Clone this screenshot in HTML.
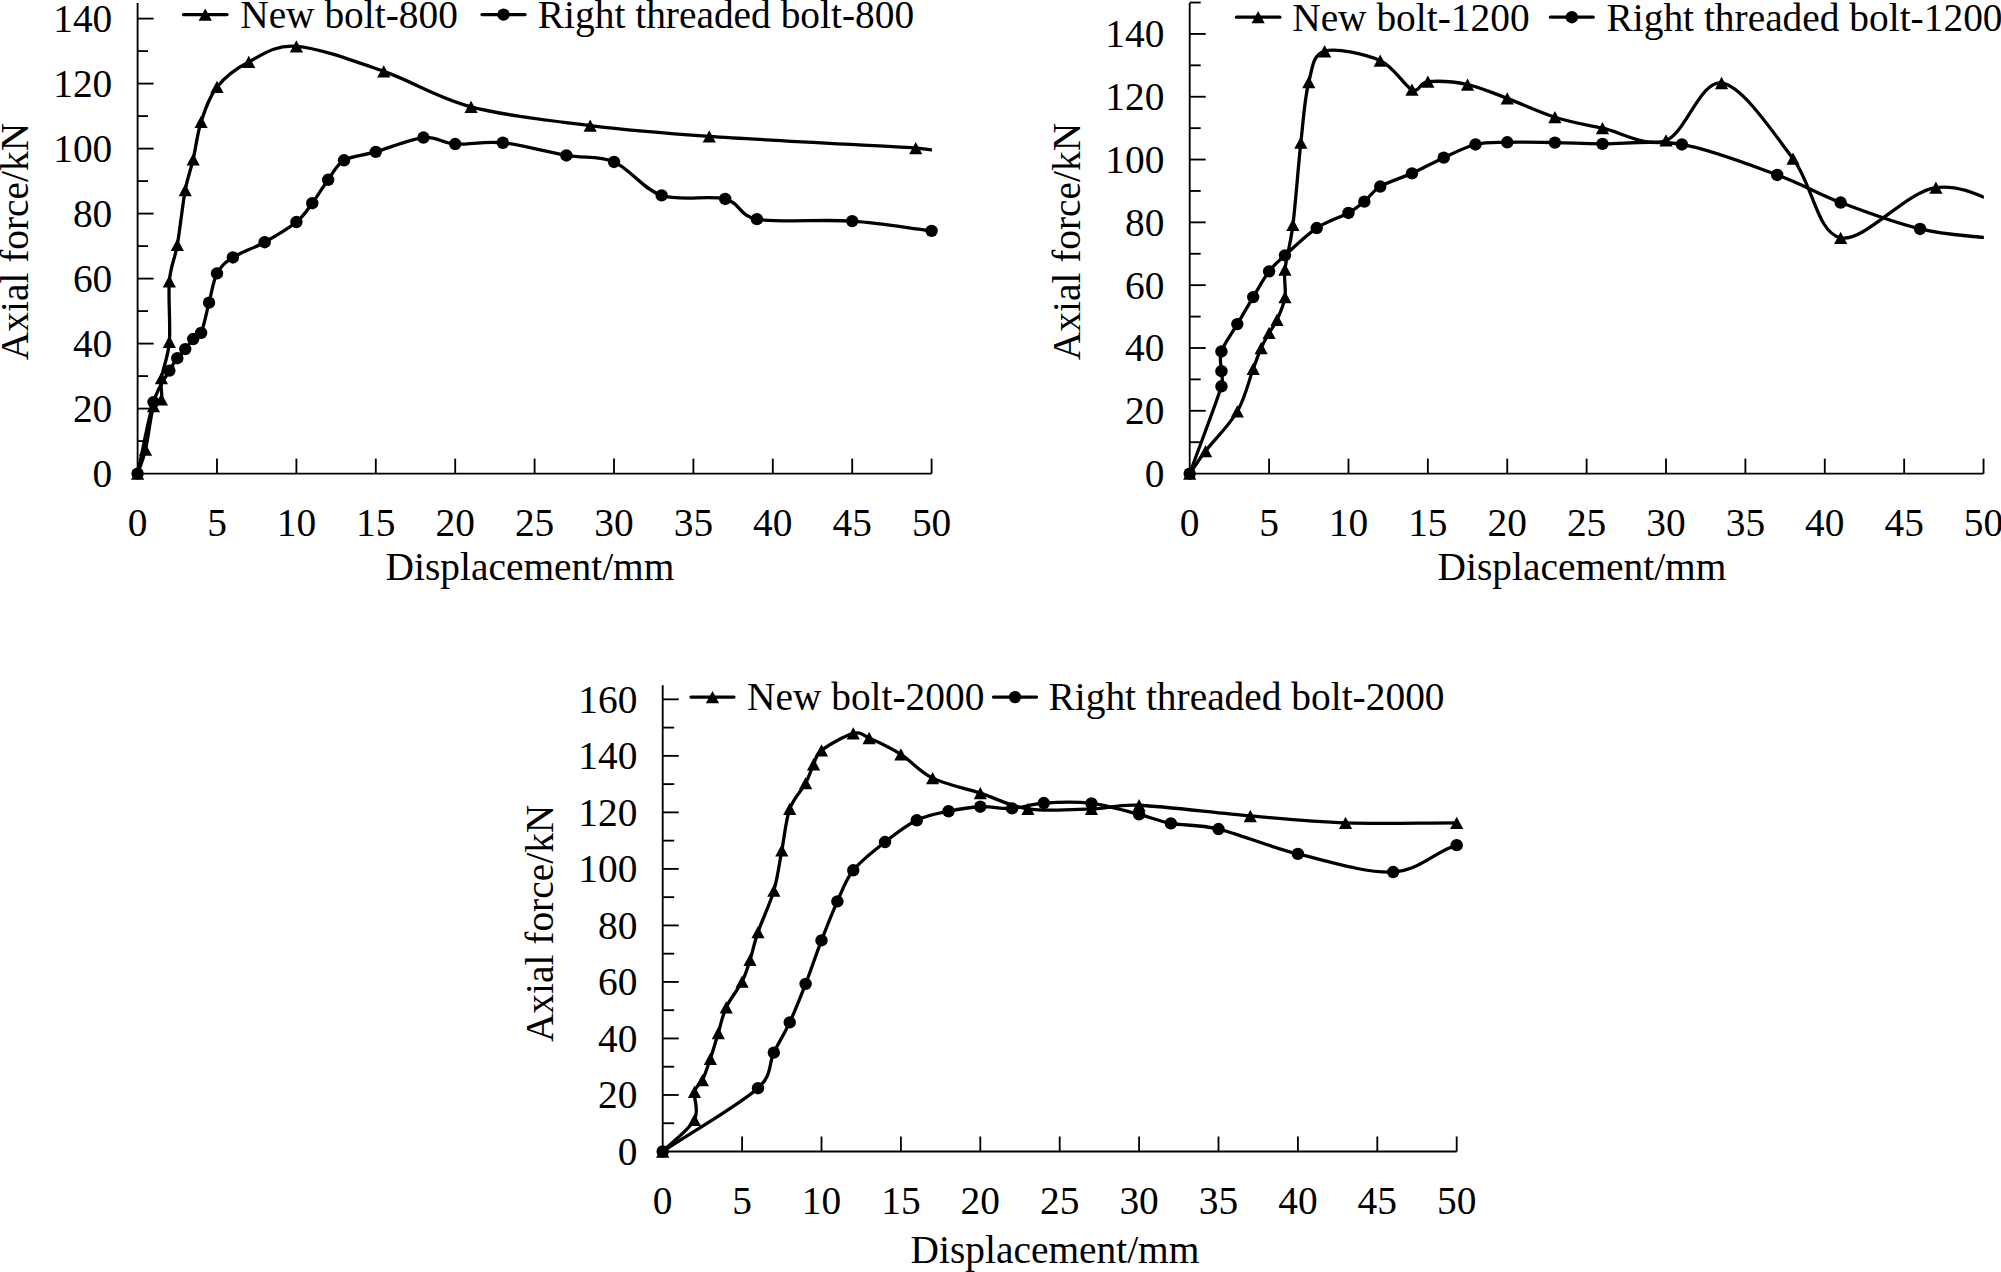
<!DOCTYPE html>
<html><head><meta charset="utf-8"><title>Axial force vs displacement</title>
<style>html,body{margin:0;padding:0;background:#fff}svg{display:block}</style></head>
<body>
<svg width="2001" height="1272" viewBox="0 0 2001 1272">
<rect width="2001" height="1272" fill="#fff"/>
<g stroke="#000" stroke-width="1.85" fill="none" stroke-linecap="butt">
<path d="M137.60,3.00 L137.60,473.60 L931.60,473.60"/>
<path d="M137.60,441.10 h10.40"/>
<path d="M137.60,408.60 h16.00"/>
<path d="M137.60,376.10 h10.40"/>
<path d="M137.60,343.60 h16.00"/>
<path d="M137.60,311.10 h10.40"/>
<path d="M137.60,278.60 h16.00"/>
<path d="M137.60,246.10 h10.40"/>
<path d="M137.60,213.60 h16.00"/>
<path d="M137.60,181.10 h10.40"/>
<path d="M137.60,148.60 h16.00"/>
<path d="M137.60,116.10 h10.40"/>
<path d="M137.60,83.60 h16.00"/>
<path d="M137.60,51.10 h10.40"/>
<path d="M137.60,18.60 h16.00"/>
<path d="M217.00,473.60 v-15.00"/>
<path d="M296.40,473.60 v-15.00"/>
<path d="M375.80,473.60 v-15.00"/>
<path d="M455.20,473.60 v-15.00"/>
<path d="M534.60,473.60 v-15.00"/>
<path d="M614.00,473.60 v-15.00"/>
<path d="M693.40,473.60 v-15.00"/>
<path d="M772.80,473.60 v-15.00"/>
<path d="M852.20,473.60 v-15.00"/>
<path d="M931.60,473.60 v-15.00"/>
</g>
<g font-family="'Liberation Serif', 'Times New Roman', serif" font-size="39.4" fill="#000">
<text x="112.30" y="487.10" text-anchor="end">0</text>
<text x="112.30" y="422.10" text-anchor="end">20</text>
<text x="112.30" y="357.10" text-anchor="end">40</text>
<text x="112.30" y="292.10" text-anchor="end">60</text>
<text x="112.30" y="227.10" text-anchor="end">80</text>
<text x="112.30" y="162.10" text-anchor="end">100</text>
<text x="112.30" y="97.10" text-anchor="end">120</text>
<text x="112.30" y="32.10" text-anchor="end">140</text>
<text x="137.60" y="536.00" text-anchor="middle">0</text>
<text x="217.00" y="536.00" text-anchor="middle">5</text>
<text x="296.40" y="536.00" text-anchor="middle">10</text>
<text x="375.80" y="536.00" text-anchor="middle">15</text>
<text x="455.20" y="536.00" text-anchor="middle">20</text>
<text x="534.60" y="536.00" text-anchor="middle">25</text>
<text x="614.00" y="536.00" text-anchor="middle">30</text>
<text x="693.40" y="536.00" text-anchor="middle">35</text>
<text x="772.80" y="536.00" text-anchor="middle">40</text>
<text x="852.20" y="536.00" text-anchor="middle">45</text>
<text x="931.60" y="536.00" text-anchor="middle">50</text>
<text x="530.00" y="579.70" text-anchor="middle">Displacement/mm</text>
<text transform="translate(28.00,241.50) rotate(-90)" text-anchor="middle">Axial force/kN</text>
<text x="240.20" y="28.00">New bolt-800</text>
<text x="537.80" y="28.00">Right threaded bolt-800</text>
</g>
<g stroke="#000" stroke-width="3.30" fill="none" stroke-linecap="round">
<path d="M183.50,14.60 H227.00"/>
<path d="M482.00,14.60 H525.00"/>
</g><g fill="#000">
<path d="M205.25,8.45 L211.85,20.75 L198.65,20.75 Z"/>
<circle cx="503.50" cy="14.60" r="6.20"/>
</g>
<clipPath id="clip196"><rect x="107.60" y="-27.00" width="824.30" height="530.60"/></clipPath>
<path d="M137.60,473.60 C140.25,465.62 142.89,460.90 145.54,449.65 C148.19,438.40 150.83,414.50 153.48,406.10 C155.05,401.11 160.10,403.93 161.42,399.28 C162.74,394.62 160.10,387.74 161.42,378.15 C162.74,368.56 168.04,357.89 169.36,341.75 C170.68,325.61 168.04,297.44 169.36,281.30 C170.68,265.16 174.65,260.12 177.30,244.90 C179.95,229.68 182.59,204.22 185.24,189.98 C187.89,175.73 190.53,170.80 193.18,159.43 C195.83,148.05 197.15,133.80 201.12,121.73 C205.09,109.65 209.06,96.92 217.00,86.95 C224.94,76.98 235.53,68.70 248.76,61.93 C261.99,55.15 273.90,44.75 296.40,46.33 C318.90,47.90 354.63,61.28 383.74,71.35 C412.85,81.43 436.67,97.73 471.08,106.78 C505.49,115.82 550.48,120.70 590.18,125.62 C629.88,130.55 655.02,132.61 709.28,136.35 C763.54,140.09 878.67,145.79 915.72,148.05 C923.70,148.54 923.61,149.58 931.60,149.90 C950.13,150.64 995.12,151.63 1026.88,152.50" stroke="#000" stroke-width="3.30" fill="none" stroke-linejoin="round" stroke-linecap="round" clip-path="url(#clip196)"/>
<g fill="#000">
<path d="M137.60,467.45 L144.20,479.75 L131.00,479.75 Z"/>
<path d="M145.54,443.50 L152.14,455.80 L138.94,455.80 Z"/>
<path d="M153.48,399.95 L160.08,412.25 L146.88,412.25 Z"/>
<path d="M161.42,393.13 L168.02,405.43 L154.82,405.43 Z"/>
<path d="M161.42,372.00 L168.02,384.30 L154.82,384.30 Z"/>
<path d="M169.36,335.60 L175.96,347.90 L162.76,347.90 Z"/>
<path d="M169.36,275.15 L175.96,287.45 L162.76,287.45 Z"/>
<path d="M177.30,238.75 L183.90,251.05 L170.70,251.05 Z"/>
<path d="M185.24,183.83 L191.84,196.13 L178.64,196.13 Z"/>
<path d="M193.18,153.28 L199.78,165.58 L186.58,165.58 Z"/>
<path d="M201.12,115.58 L207.72,127.88 L194.52,127.88 Z"/>
<path d="M217.00,80.80 L223.60,93.10 L210.40,93.10 Z"/>
<path d="M248.76,55.78 L255.36,68.08 L242.16,68.08 Z"/>
<path d="M296.40,40.18 L303.00,52.48 L289.80,52.48 Z"/>
<path d="M383.74,65.20 L390.34,77.50 L377.14,77.50 Z"/>
<path d="M471.08,100.63 L477.68,112.93 L464.48,112.93 Z"/>
<path d="M590.18,119.47 L596.78,131.77 L583.58,131.77 Z"/>
<path d="M709.28,130.20 L715.88,142.50 L702.68,142.50 Z"/>
<path d="M915.72,141.90 L922.32,154.20 L909.12,154.20 Z"/>
</g>
<path d="M137.60,473.60 C142.89,449.77 148.19,419.27 153.48,402.10 C158.68,385.23 165.39,377.89 169.36,370.58 C172.86,364.12 174.65,361.80 177.30,358.23 C179.95,354.65 182.59,352.32 185.24,349.12 C187.89,345.93 190.53,341.76 193.18,339.05 C195.83,336.34 199.11,337.48 201.12,332.88 C203.77,326.81 206.41,312.56 209.06,302.65 C211.71,292.74 213.03,280.93 217.00,273.40 C220.97,265.87 224.94,262.68 232.88,257.48 C240.82,252.28 254.05,248.10 264.64,242.20 C275.23,236.30 288.46,228.55 296.40,222.05 C304.34,215.55 306.99,210.24 312.28,203.20 C317.57,196.16 322.87,186.95 328.16,179.80 C333.45,172.65 336.10,164.96 344.04,160.30 C351.98,155.64 362.57,155.64 375.80,151.85 C389.03,148.06 410.21,138.85 423.44,137.55 C436.67,136.25 441.97,143.18 455.20,144.05 C468.43,144.92 484.31,140.85 502.84,142.75 C521.37,144.65 547.83,152.23 566.36,155.43 C584.89,158.62 598.12,155.26 614.00,161.93 C629.88,168.59 643.11,189.23 661.64,195.40 C680.17,201.58 709.28,195.02 725.16,198.98 C741.04,202.93 738.39,215.90 756.92,219.13 C778.09,222.81 823.09,219.13 852.20,221.08 C881.31,223.03 905.13,227.58 931.60,230.83" stroke="#000" stroke-width="3.30" fill="none" stroke-linejoin="round" stroke-linecap="round"/>
<g fill="#000">
<circle cx="137.60" cy="473.60" r="6.20"/>
<circle cx="153.48" cy="402.10" r="6.20"/>
<circle cx="169.36" cy="370.58" r="6.20"/>
<circle cx="177.30" cy="358.23" r="6.20"/>
<circle cx="185.24" cy="349.12" r="6.20"/>
<circle cx="193.18" cy="339.05" r="6.20"/>
<circle cx="201.12" cy="332.88" r="6.20"/>
<circle cx="209.06" cy="302.65" r="6.20"/>
<circle cx="217.00" cy="273.40" r="6.20"/>
<circle cx="232.88" cy="257.48" r="6.20"/>
<circle cx="264.64" cy="242.20" r="6.20"/>
<circle cx="296.40" cy="222.05" r="6.20"/>
<circle cx="312.28" cy="203.20" r="6.20"/>
<circle cx="328.16" cy="179.80" r="6.20"/>
<circle cx="344.04" cy="160.30" r="6.20"/>
<circle cx="375.80" cy="151.85" r="6.20"/>
<circle cx="423.44" cy="137.55" r="6.20"/>
<circle cx="455.20" cy="144.05" r="6.20"/>
<circle cx="502.84" cy="142.75" r="6.20"/>
<circle cx="566.36" cy="155.43" r="6.20"/>
<circle cx="614.00" cy="161.93" r="6.20"/>
<circle cx="661.64" cy="195.40" r="6.20"/>
<circle cx="725.16" cy="198.98" r="6.20"/>
<circle cx="756.92" cy="219.13" r="6.20"/>
<circle cx="852.20" cy="221.08" r="6.20"/>
<circle cx="931.60" cy="230.83" r="6.20"/>
</g>
<g stroke="#000" stroke-width="1.85" fill="none" stroke-linecap="butt">
<path d="M1189.70,3.00 L1189.70,473.60 L1983.55,473.60"/>
<path d="M1189.70,442.20 h11.00"/>
<path d="M1189.70,410.79 h16.00"/>
<path d="M1189.70,379.39 h11.00"/>
<path d="M1189.70,347.98 h16.00"/>
<path d="M1189.70,316.58 h11.00"/>
<path d="M1189.70,285.17 h16.00"/>
<path d="M1189.70,253.77 h11.00"/>
<path d="M1189.70,222.36 h16.00"/>
<path d="M1189.70,190.96 h11.00"/>
<path d="M1189.70,159.55 h16.00"/>
<path d="M1189.70,128.15 h11.00"/>
<path d="M1189.70,96.74 h16.00"/>
<path d="M1189.70,65.34 h11.00"/>
<path d="M1189.70,33.93 h16.00"/>
<path d="M1189.70,2.53 h11.00"/>
<path d="M1269.09,473.60 v-15.00"/>
<path d="M1348.47,473.60 v-15.00"/>
<path d="M1427.86,473.60 v-15.00"/>
<path d="M1507.24,473.60 v-15.00"/>
<path d="M1586.62,473.60 v-15.00"/>
<path d="M1666.01,473.60 v-15.00"/>
<path d="M1745.39,473.60 v-15.00"/>
<path d="M1824.78,473.60 v-15.00"/>
<path d="M1904.16,473.60 v-15.00"/>
<path d="M1983.55,473.60 v-15.00"/>
</g>
<g font-family="'Liberation Serif', 'Times New Roman', serif" font-size="39.4" fill="#000">
<text x="1164.40" y="487.10" text-anchor="end">0</text>
<text x="1164.40" y="424.29" text-anchor="end">20</text>
<text x="1164.40" y="361.48" text-anchor="end">40</text>
<text x="1164.40" y="298.67" text-anchor="end">60</text>
<text x="1164.40" y="235.86" text-anchor="end">80</text>
<text x="1164.40" y="173.05" text-anchor="end">100</text>
<text x="1164.40" y="110.24" text-anchor="end">120</text>
<text x="1164.40" y="47.43" text-anchor="end">140</text>
<text x="1189.70" y="536.00" text-anchor="middle">0</text>
<text x="1269.09" y="536.00" text-anchor="middle">5</text>
<text x="1348.47" y="536.00" text-anchor="middle">10</text>
<text x="1427.86" y="536.00" text-anchor="middle">15</text>
<text x="1507.24" y="536.00" text-anchor="middle">20</text>
<text x="1586.62" y="536.00" text-anchor="middle">25</text>
<text x="1666.01" y="536.00" text-anchor="middle">30</text>
<text x="1745.39" y="536.00" text-anchor="middle">35</text>
<text x="1824.78" y="536.00" text-anchor="middle">40</text>
<text x="1904.16" y="536.00" text-anchor="middle">45</text>
<text x="1983.55" y="536.00" text-anchor="middle">50</text>
<text x="1582.00" y="579.50" text-anchor="middle">Displacement/mm</text>
<text transform="translate(1080.00,241.50) rotate(-90)" text-anchor="middle">Axial force/kN</text>
<text x="1292.20" y="30.50">New bolt-1200</text>
<text x="1606.50" y="30.50">Right threaded bolt-1200</text>
</g>
<g stroke="#000" stroke-width="3.30" fill="none" stroke-linecap="round">
<path d="M1236.50,17.20 H1279.80"/>
<path d="M1550.50,17.20 H1593.20"/>
</g><g fill="#000">
<path d="M1258.15,11.05 L1264.75,23.35 L1251.55,23.35 Z"/>
<circle cx="1571.85" cy="17.20" r="6.20"/>
</g>
<clipPath id="clip1249"><rect x="1159.70" y="-27.00" width="824.15" height="530.60"/></clipPath>
<path d="M1189.70,473.60 C1194.99,466.08 1197.64,461.40 1205.58,451.04 C1213.52,440.69 1229.39,425.19 1237.33,411.47 C1245.27,397.76 1249.24,379.34 1253.21,368.76 C1257.11,358.37 1258.50,354.00 1261.15,348.04 C1263.79,342.07 1266.44,337.67 1269.09,332.96 C1271.73,328.25 1274.38,325.74 1277.02,319.77 C1279.67,313.80 1283.64,305.53 1284.96,297.16 C1286.29,288.79 1283.64,281.56 1284.96,269.52 C1286.29,257.49 1290.25,246.07 1292.90,224.93 C1295.55,203.78 1298.19,166.46 1300.84,142.65 C1303.49,118.83 1304.81,97.27 1308.78,82.04 C1312.75,66.80 1312.75,54.82 1324.65,51.26 C1336.56,47.70 1365.67,54.29 1380.22,60.68 C1394.78,67.07 1404.04,86.07 1411.98,89.57 C1419.92,93.08 1419.03,82.52 1427.86,81.72 C1437.12,80.88 1454.32,81.77 1467.55,84.55 C1480.78,87.32 1492.69,92.92 1507.24,98.37 C1521.79,103.81 1538.99,112.24 1554.87,117.21 C1570.75,122.18 1583.98,124.33 1602.50,128.20 C1621.03,132.07 1646.16,147.99 1666.01,140.45 C1685.86,132.91 1700.41,79.94 1721.58,82.98 C1742.75,86.01 1773.18,132.86 1793.03,158.66 C1812.87,184.47 1816.84,232.99 1840.66,237.80 C1864.47,242.62 1905.49,191.70 1935.92,187.56 C1966.35,183.41 1994.13,204.48 2023.24,212.94" stroke="#000" stroke-width="3.30" fill="none" stroke-linejoin="round" stroke-linecap="round" clip-path="url(#clip1249)"/>
<g fill="#000">
<path d="M1189.70,467.45 L1196.30,479.75 L1183.10,479.75 Z"/>
<path d="M1205.58,444.89 L1212.18,457.19 L1198.98,457.19 Z"/>
<path d="M1237.33,405.32 L1243.93,417.62 L1230.73,417.62 Z"/>
<path d="M1253.21,362.61 L1259.81,374.91 L1246.61,374.91 Z"/>
<path d="M1261.15,341.89 L1267.75,354.19 L1254.55,354.19 Z"/>
<path d="M1269.09,326.81 L1275.68,339.11 L1262.49,339.11 Z"/>
<path d="M1277.02,313.62 L1283.62,325.92 L1270.42,325.92 Z"/>
<path d="M1284.96,291.01 L1291.56,303.31 L1278.36,303.31 Z"/>
<path d="M1284.96,263.37 L1291.56,275.67 L1278.36,275.67 Z"/>
<path d="M1292.90,218.78 L1299.50,231.08 L1286.30,231.08 Z"/>
<path d="M1300.84,136.50 L1307.44,148.80 L1294.24,148.80 Z"/>
<path d="M1308.78,75.89 L1315.38,88.19 L1302.18,88.19 Z"/>
<path d="M1324.65,45.11 L1331.25,57.41 L1318.05,57.41 Z"/>
<path d="M1380.22,54.53 L1386.82,66.83 L1373.62,66.83 Z"/>
<path d="M1411.98,83.42 L1418.58,95.72 L1405.38,95.72 Z"/>
<path d="M1427.86,75.57 L1434.45,87.87 L1421.26,87.87 Z"/>
<path d="M1467.55,78.40 L1474.15,90.70 L1460.95,90.70 Z"/>
<path d="M1507.24,92.22 L1513.84,104.52 L1500.64,104.52 Z"/>
<path d="M1554.87,111.06 L1561.47,123.36 L1548.27,123.36 Z"/>
<path d="M1602.50,122.05 L1609.10,134.35 L1595.90,134.35 Z"/>
<path d="M1666.01,134.30 L1672.61,146.60 L1659.41,146.60 Z"/>
<path d="M1721.58,76.83 L1728.18,89.13 L1714.98,89.13 Z"/>
<path d="M1793.03,152.51 L1799.63,164.81 L1786.43,164.81 Z"/>
<path d="M1840.66,231.65 L1847.26,243.95 L1834.06,243.95 Z"/>
<path d="M1935.92,181.41 L1942.52,193.71 L1929.32,193.71 Z"/>
</g>
<clipPath id="clip1278"><rect x="1159.70" y="-27.00" width="824.15" height="530.60"/></clipPath>
<path d="M1189.70,473.60 C1200.28,444.50 1216.16,403.36 1221.45,386.29 C1223.69,379.10 1221.45,377.03 1221.45,371.22 C1221.45,365.41 1218.81,359.29 1221.45,351.43 C1224.10,343.58 1232.04,333.17 1237.33,324.11 C1242.62,315.06 1247.92,305.90 1253.21,297.10 C1258.50,288.31 1263.79,278.31 1269.09,271.35 C1274.38,264.39 1277.02,262.56 1284.96,255.34 C1292.90,248.11 1306.13,235.08 1316.72,228.01 C1327.30,220.95 1340.53,217.34 1348.47,212.94 C1356.41,208.54 1359.05,206.03 1364.35,201.63 C1369.64,197.24 1372.29,191.27 1380.22,186.56 C1388.16,181.85 1401.39,178.18 1411.98,173.37 C1422.56,168.55 1433.15,162.48 1443.73,157.67 C1454.32,152.85 1464.90,147.04 1475.49,144.48 C1486.07,141.91 1494.01,142.59 1507.24,142.28 C1520.47,141.96 1538.99,142.33 1554.87,142.59 C1570.75,142.85 1581.33,143.53 1602.50,143.85 C1623.67,144.16 1652.78,139.29 1681.89,144.48 C1710.99,149.66 1750.69,165.26 1777.15,174.94 C1803.61,184.62 1816.84,193.57 1840.66,202.57 C1864.47,211.58 1896.23,223.15 1920.04,228.96 C1943.86,234.76 1962.38,235.18 1983.55,237.43 C2004.72,239.69 2025.89,240.78 2047.06,242.46" stroke="#000" stroke-width="3.30" fill="none" stroke-linejoin="round" stroke-linecap="round" clip-path="url(#clip1278)"/>
<g fill="#000">
<circle cx="1189.70" cy="473.60" r="6.20"/>
<circle cx="1221.45" cy="386.29" r="6.20"/>
<circle cx="1221.45" cy="371.22" r="6.20"/>
<circle cx="1221.45" cy="351.43" r="6.20"/>
<circle cx="1237.33" cy="324.11" r="6.20"/>
<circle cx="1253.21" cy="297.10" r="6.20"/>
<circle cx="1269.09" cy="271.35" r="6.20"/>
<circle cx="1284.96" cy="255.34" r="6.20"/>
<circle cx="1316.72" cy="228.01" r="6.20"/>
<circle cx="1348.47" cy="212.94" r="6.20"/>
<circle cx="1364.35" cy="201.63" r="6.20"/>
<circle cx="1380.22" cy="186.56" r="6.20"/>
<circle cx="1411.98" cy="173.37" r="6.20"/>
<circle cx="1443.73" cy="157.67" r="6.20"/>
<circle cx="1475.49" cy="144.48" r="6.20"/>
<circle cx="1507.24" cy="142.28" r="6.20"/>
<circle cx="1554.87" cy="142.59" r="6.20"/>
<circle cx="1602.50" cy="143.85" r="6.20"/>
<circle cx="1681.89" cy="144.48" r="6.20"/>
<circle cx="1777.15" cy="174.94" r="6.20"/>
<circle cx="1840.66" cy="202.57" r="6.20"/>
<circle cx="1920.04" cy="228.96" r="6.20"/>
</g>
<g stroke="#000" stroke-width="1.85" fill="none" stroke-linecap="butt">
<path d="M662.70,685.20 L662.70,1151.50 L1456.70,1151.50"/>
<path d="M662.70,1123.24 h11.50"/>
<path d="M662.70,1094.98 h16.00"/>
<path d="M662.70,1066.72 h11.50"/>
<path d="M662.70,1038.46 h16.00"/>
<path d="M662.70,1010.20 h11.50"/>
<path d="M662.70,981.94 h16.00"/>
<path d="M662.70,953.68 h11.50"/>
<path d="M662.70,925.42 h16.00"/>
<path d="M662.70,897.16 h11.50"/>
<path d="M662.70,868.90 h16.00"/>
<path d="M662.70,840.64 h11.50"/>
<path d="M662.70,812.38 h16.00"/>
<path d="M662.70,784.12 h11.50"/>
<path d="M662.70,755.86 h16.00"/>
<path d="M662.70,727.60 h11.50"/>
<path d="M662.70,699.34 h16.00"/>
<path d="M742.10,1151.50 v-15.00"/>
<path d="M821.50,1151.50 v-15.00"/>
<path d="M900.90,1151.50 v-15.00"/>
<path d="M980.30,1151.50 v-15.00"/>
<path d="M1059.70,1151.50 v-15.00"/>
<path d="M1139.10,1151.50 v-15.00"/>
<path d="M1218.50,1151.50 v-15.00"/>
<path d="M1297.90,1151.50 v-15.00"/>
<path d="M1377.30,1151.50 v-15.00"/>
<path d="M1456.70,1151.50 v-15.00"/>
</g>
<g font-family="'Liberation Serif', 'Times New Roman', serif" font-size="39.4" fill="#000">
<text x="637.40" y="1165.00" text-anchor="end">0</text>
<text x="637.40" y="1108.48" text-anchor="end">20</text>
<text x="637.40" y="1051.96" text-anchor="end">40</text>
<text x="637.40" y="995.44" text-anchor="end">60</text>
<text x="637.40" y="938.92" text-anchor="end">80</text>
<text x="637.40" y="882.40" text-anchor="end">100</text>
<text x="637.40" y="825.88" text-anchor="end">120</text>
<text x="637.40" y="769.36" text-anchor="end">140</text>
<text x="637.40" y="712.84" text-anchor="end">160</text>
<text x="662.70" y="1213.50" text-anchor="middle">0</text>
<text x="742.10" y="1213.50" text-anchor="middle">5</text>
<text x="821.50" y="1213.50" text-anchor="middle">10</text>
<text x="900.90" y="1213.50" text-anchor="middle">15</text>
<text x="980.30" y="1213.50" text-anchor="middle">20</text>
<text x="1059.70" y="1213.50" text-anchor="middle">25</text>
<text x="1139.10" y="1213.50" text-anchor="middle">30</text>
<text x="1218.50" y="1213.50" text-anchor="middle">35</text>
<text x="1297.90" y="1213.50" text-anchor="middle">40</text>
<text x="1377.30" y="1213.50" text-anchor="middle">45</text>
<text x="1456.70" y="1213.50" text-anchor="middle">50</text>
<text x="1055.00" y="1263.00" text-anchor="middle">Displacement/mm</text>
<text transform="translate(553.20,923.40) rotate(-90)" text-anchor="middle">Axial force/kN</text>
<text x="747.00" y="710.00">New bolt-2000</text>
<text x="1048.50" y="710.00">Right threaded bolt-2000</text>
</g>
<g stroke="#000" stroke-width="3.30" fill="none" stroke-linecap="round">
<path d="M691.00,697.10 H734.00"/>
<path d="M993.50,697.10 H1036.50"/>
</g><g fill="#000">
<path d="M712.50,690.95 L719.10,703.25 L705.90,703.25 Z"/>
<circle cx="1015.00" cy="697.10" r="6.20"/>
</g>
<path d="M662.70,1151.50 C673.29,1140.93 689.17,1129.73 694.46,1119.78 C699.75,1109.83 693.14,1098.40 694.46,1091.80 C695.78,1085.21 699.75,1085.73 702.40,1080.22 C705.05,1074.70 707.69,1066.60 710.34,1058.74 C712.99,1050.87 715.63,1041.59 718.28,1033.02 C720.93,1024.45 722.25,1015.88 726.22,1007.30 C730.19,998.73 738.13,989.50 742.10,981.59 C746.07,973.67 747.39,968.07 750.04,959.83 C752.69,951.59 754.01,943.67 757.98,932.13 C761.95,920.59 769.89,904.20 773.86,890.59 C777.83,876.98 779.15,864.07 781.80,850.46 C784.45,836.85 785.77,820.13 789.74,808.92 C793.71,797.71 801.65,790.64 805.62,783.20 C809.59,775.76 810.91,769.73 813.56,764.27 C816.21,758.80 815.19,755.31 821.50,750.42 C828.12,745.29 845.32,735.54 853.26,733.46 C861.20,731.39 861.58,734.67 869.14,737.99 C877.08,741.47 890.31,747.69 900.90,754.38 C911.49,761.07 919.43,771.66 932.66,778.12 C945.89,784.57 964.42,787.96 980.30,793.09 C996.18,798.23 1009.41,806.28 1027.94,808.92 C1046.47,811.56 1072.93,809.53 1091.46,808.92 C1109.99,808.31 1115.23,804.18 1139.10,805.25 C1165.57,806.42 1215.85,813.04 1250.26,815.98 C1284.67,818.93 1311.13,821.75 1345.54,822.91 C1379.95,824.06 1419.65,822.91 1456.70,822.91" stroke="#000" stroke-width="3.30" fill="none" stroke-linejoin="round" stroke-linecap="round"/>
<g fill="#000">
<path d="M662.70,1145.35 L669.30,1157.65 L656.10,1157.65 Z"/>
<path d="M694.46,1113.63 L701.06,1125.93 L687.86,1125.93 Z"/>
<path d="M694.46,1085.65 L701.06,1097.95 L687.86,1097.95 Z"/>
<path d="M702.40,1074.07 L709.00,1086.37 L695.80,1086.37 Z"/>
<path d="M710.34,1052.59 L716.94,1064.89 L703.74,1064.89 Z"/>
<path d="M718.28,1026.87 L724.88,1039.17 L711.68,1039.17 Z"/>
<path d="M726.22,1001.15 L732.82,1013.45 L719.62,1013.45 Z"/>
<path d="M742.10,975.44 L748.70,987.74 L735.50,987.74 Z"/>
<path d="M750.04,953.68 L756.64,965.98 L743.44,965.98 Z"/>
<path d="M757.98,925.98 L764.58,938.28 L751.38,938.28 Z"/>
<path d="M773.86,884.44 L780.46,896.74 L767.26,896.74 Z"/>
<path d="M781.80,844.31 L788.40,856.61 L775.20,856.61 Z"/>
<path d="M789.74,802.77 L796.34,815.07 L783.14,815.07 Z"/>
<path d="M805.62,777.05 L812.22,789.35 L799.02,789.35 Z"/>
<path d="M813.56,758.12 L820.16,770.42 L806.96,770.42 Z"/>
<path d="M821.50,744.27 L828.10,756.57 L814.90,756.57 Z"/>
<path d="M853.26,727.31 L859.86,739.61 L846.66,739.61 Z"/>
<path d="M869.14,731.84 L875.74,744.14 L862.54,744.14 Z"/>
<path d="M900.90,748.23 L907.50,760.53 L894.30,760.53 Z"/>
<path d="M932.66,771.97 L939.26,784.27 L926.06,784.27 Z"/>
<path d="M980.30,786.94 L986.90,799.24 L973.70,799.24 Z"/>
<path d="M1027.94,802.77 L1034.54,815.07 L1021.34,815.07 Z"/>
<path d="M1091.46,802.77 L1098.06,815.07 L1084.86,815.07 Z"/>
<path d="M1139.10,799.10 L1145.70,811.40 L1132.50,811.40 Z"/>
<path d="M1250.26,809.83 L1256.86,822.13 L1243.66,822.13 Z"/>
<path d="M1345.54,816.76 L1352.14,829.06 L1338.94,829.06 Z"/>
<path d="M1456.70,816.76 L1463.30,829.06 L1450.10,829.06 Z"/>
</g>
<clipPath id="clip754"><rect x="632.70" y="655.20" width="824.30" height="526.30"/></clipPath>
<path d="M662.70,1151.50 C694.46,1130.40 739.45,1104.68 757.98,1088.20 C772.54,1075.24 768.57,1063.56 773.86,1052.59 C779.15,1041.62 784.45,1033.80 789.74,1022.35 C795.03,1010.91 800.33,997.58 805.62,983.92 C810.91,970.26 816.21,954.15 821.50,940.40 C826.79,926.64 832.09,913.08 837.38,901.40 C842.67,889.72 845.32,880.20 853.26,870.31 C861.20,860.42 874.43,850.39 885.02,842.05 C895.61,833.72 906.19,825.43 916.78,820.29 C927.37,815.16 937.95,813.51 948.54,811.25 C959.13,808.99 969.71,807.20 980.30,806.73 C990.89,806.26 1001.47,809.04 1012.06,808.42 C1022.65,807.81 1030.59,803.90 1043.82,803.05 C1057.05,802.21 1075.58,801.45 1091.46,803.34 C1107.34,805.22 1125.87,811.01 1139.10,814.36 C1152.33,817.70 1157.63,820.95 1170.86,823.40 C1184.09,825.85 1197.33,823.97 1218.50,829.05 C1239.67,834.14 1268.79,846.76 1297.90,853.92 C1327.01,861.08 1366.71,873.47 1393.18,872.01 C1419.65,870.55 1435.53,851.33 1456.70,845.16 C1477.87,838.99 1499.05,838.38 1520.22,834.99" stroke="#000" stroke-width="3.30" fill="none" stroke-linejoin="round" stroke-linecap="round" clip-path="url(#clip754)"/>
<g fill="#000">
<circle cx="662.70" cy="1151.50" r="6.20"/>
<circle cx="757.98" cy="1088.20" r="6.20"/>
<circle cx="773.86" cy="1052.59" r="6.20"/>
<circle cx="789.74" cy="1022.35" r="6.20"/>
<circle cx="805.62" cy="983.92" r="6.20"/>
<circle cx="821.50" cy="940.40" r="6.20"/>
<circle cx="837.38" cy="901.40" r="6.20"/>
<circle cx="853.26" cy="870.31" r="6.20"/>
<circle cx="885.02" cy="842.05" r="6.20"/>
<circle cx="916.78" cy="820.29" r="6.20"/>
<circle cx="948.54" cy="811.25" r="6.20"/>
<circle cx="980.30" cy="806.73" r="6.20"/>
<circle cx="1012.06" cy="808.42" r="6.20"/>
<circle cx="1043.82" cy="803.05" r="6.20"/>
<circle cx="1091.46" cy="803.34" r="6.20"/>
<circle cx="1139.10" cy="814.36" r="6.20"/>
<circle cx="1170.86" cy="823.40" r="6.20"/>
<circle cx="1218.50" cy="829.05" r="6.20"/>
<circle cx="1297.90" cy="853.92" r="6.20"/>
<circle cx="1393.18" cy="872.01" r="6.20"/>
<circle cx="1456.70" cy="845.16" r="6.20"/>
</g>
</svg>
</body></html>
